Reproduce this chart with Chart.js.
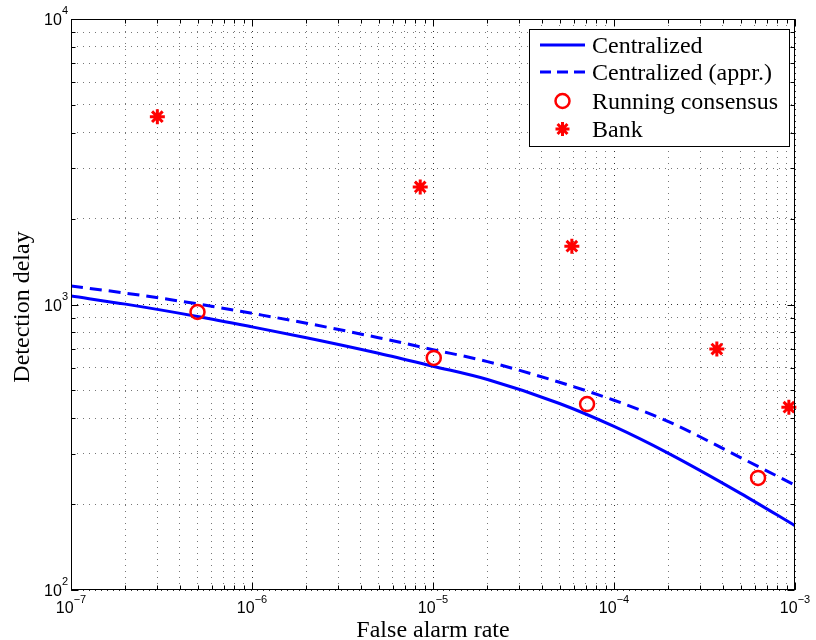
<!DOCTYPE html>
<html>
<head>
<meta charset="utf-8">
<script src="https://cdn.jsdelivr.net/npm/chart.js@4.4.1/dist/chart.umd.min.js"></script>
<style>
  html, body { margin: 0; padding: 0; background: #fff; }
  #wrap { width: 816px; height: 640px; position: relative; }
</style>
</head>
<body>
<div id="wrap"><canvas id="chart"></canvas></div>
<script>
const seriesNames = ["Centralized", "Centralized (appr.)", "Running consensus", "Bank"];

// curves
const centralX = [1e-7, 2e-7, 5e-7, 1e-6, 2e-6, 5e-6, 1e-5, 2e-5, 5e-5, 1e-4, 2e-4, 5e-4, 1e-3];
const centralY = [1071, 1003, 908, 835, 765, 675, 608, 546, 450, 374, 301, 218, 168];
const approxY = [1161, 1096, 1005, 931, 860, 765, 695, 631, 534, 462, 389, 291, 233];

// markers
const consensusX = [5e-7, 1.01e-5, 7.1e-5, 6.25e-4];
const consensusY = [941, 650, 448, 247];
const bankX = [3e-7, 8.5e-6, 5.85e-5, 3.7e-4, 9.25e-4];
const bankY = [4550, 2580, 1600, 698, 437];

// axes
const xMajor = [1e-7, 1e-6, 1e-5, 1e-4, 1e-3];
const xExp = ["\u22127", "\u22126", "\u22125", "\u22124", "\u22123"];
const yMajor = [1e2, 1e3, 1e4];
const yExp = ["2", "3", "4"];

const BLUE = "#0000ff";
const RED = "#ff0000";

function pts(xs, ys) {
  return xs.map((x, i) => ({ x: x, y: ys[i] }));
}

// 1..9 x 10^n between the major ticks
function decadeTicks(majors) {
  const out = [];
  for (let i = 0; i < majors.length - 1; i++) {
    for (let k = 1; k <= 9; k++) {
      out.push(parseFloat((k * majors[i]).toPrecision(10)));
    }
  }
  out.push(majors[majors.length - 1]);
  return out;
}

const xTicks = decadeTicks(xMajor);
const yTicks = decadeTicks(yMajor);

function isMajor(v) {
  const l = Math.log10(v);
  return Math.abs(l - Math.round(l)) < 1e-9;
}

function gridColor(ctx) {
  if (!ctx.tick) return "#666";
  return isMajor(ctx.tick.value) ? "#333" : "#777";
}

const framePlugin = {
  id: "frame",
  afterDatasetsDraw(chart) {
    const ctx = chart.ctx;
    const area = chart.chartArea;
    const xs = chart.scales.x;
    const ys = chart.scales.y;
    const L = Math.round(area.left) + 0.5;
    const R = Math.round(area.right) - 0.5;
    const T = Math.round(area.top) + 0.5;
    const B = Math.round(area.bottom) - 0.5;

    ctx.save();
    ctx.strokeStyle = "#000";
    ctx.lineWidth = 1;
    ctx.setLineDash([]);
    ctx.strokeRect(L, T, R - L, B - T);

    // inward ticks on all four sides
    ctx.beginPath();
    xTicks.forEach(v => {
      const p = Math.round(xs.getPixelForValue(v)) + 0.5;
      const len = isMajor(v) ? 7 : 4;
      ctx.moveTo(p, B); ctx.lineTo(p, B - len);
      ctx.moveTo(p, T); ctx.lineTo(p, T + len);
    });
    yTicks.forEach(v => {
      const p = Math.round(ys.getPixelForValue(v)) + 0.5;
      const len = isMajor(v) ? 7 : 4;
      ctx.moveTo(L, p); ctx.lineTo(L + len, p);
      ctx.moveTo(R, p); ctx.lineTo(R - len, p);
    });
    ctx.stroke();

    // tick labels 10^n
    ctx.fillStyle = "#000";
    ctx.textBaseline = "alphabetic";
    ctx.textAlign = "left";
    const baseFont = '16px "Liberation Sans", Arial, sans-serif';
    const expFont = '11px "Liberation Sans", Arial, sans-serif';

    xMajor.forEach((v, i) => {
      const p = xs.getPixelForValue(v);
      ctx.font = baseFont;
      const w1 = ctx.measureText("10").width;
      ctx.font = expFont;
      const w2 = ctx.measureText(xExp[i]).width;
      const start = p - (w1 + w2) / 2;
      ctx.font = baseFont;
      ctx.fillText("10", start, 613);
      ctx.font = expFont;
      ctx.fillText(xExp[i], start + w1, 603);
    });

    yMajor.forEach((v, i) => {
      const p = ys.getPixelForValue(v);
      ctx.font = expFont;
      const w2 = ctx.measureText(yExp[i]).width;
      ctx.font = baseFont;
      const w1 = ctx.measureText("10").width;
      const right = 68;
      ctx.fillText("10", right - w2 - w1, p + 6);
      ctx.font = expFont;
      ctx.fillText(yExp[i], right - w2, p - 5);
    });

    // axis titles
    ctx.font = '24px "Liberation Serif", "Times New Roman", serif';
    ctx.textAlign = "center";
    ctx.fillText("False alarm rate", (area.left + area.right) / 2, 637);
    ctx.save();
    ctx.translate(29, 307);
    ctx.rotate(-Math.PI / 2);
    ctx.fillText("Detection delay", 0, 0);
    ctx.restore();

    // legend box
    const lx = 529, ly = 29, lw = 260, lh = 117;
    ctx.fillStyle = "#fff";
    ctx.fillRect(lx, ly, lw, lh);
    ctx.strokeStyle = "#000";
    ctx.lineWidth = 1;
    ctx.strokeRect(lx + 0.5, ly + 0.5, lw, lh);

    const rows = [45, 72, 101, 129];
    const sx0 = 540, sx1 = 585, sxc = 562.5;

    ctx.lineWidth = 3;
    ctx.strokeStyle = BLUE;
    ctx.beginPath();
    ctx.moveTo(sx0, rows[0]); ctx.lineTo(sx1, rows[0]);
    ctx.stroke();

    ctx.setLineDash([11, 6]);
    ctx.beginPath();
    ctx.moveTo(sx0, rows[1]); ctx.lineTo(sx1, rows[1]);
    ctx.stroke();
    ctx.setLineDash([]);

    ctx.strokeStyle = RED;
    ctx.lineWidth = 2.5;
    ctx.beginPath();
    ctx.arc(sxc, rows[2], 7, 0, Math.PI * 2);
    ctx.stroke();

    ctx.lineWidth = 3;
    ctx.beginPath();
    const r = 7;
    for (let k = 0; k < 4; k++) {
      const a = k * Math.PI / 4;
      ctx.moveTo(sxc - r * Math.cos(a), rows[3] - r * Math.sin(a));
      ctx.lineTo(sxc + r * Math.cos(a), rows[3] + r * Math.sin(a));
    }
    ctx.stroke();

    ctx.fillStyle = "#000";
    ctx.textAlign = "left";
    ctx.font = '24px "Liberation Serif", "Times New Roman", serif';
    seriesNames.forEach((name, i) => {
      ctx.fillText(name, 592, rows[i] + 8);
    });

    ctx.restore();
  }
};

new Chart(document.getElementById("chart"), {
  type: "scatter",
  data: {
    datasets: [
      {
        label: seriesNames[2],
        data: pts(consensusX, consensusY),
        showLine: false,
        pointStyle: "circle",
        pointRadius: 7,
        borderWidth: 2.5,
        borderColor: RED,
        backgroundColor: "rgba(0,0,0,0)",
        clip: false,
        order: 0
      },
      {
        label: seriesNames[3],
        data: pts(bankX, bankY),
        showLine: false,
        pointStyle: "star",
        pointRadius: 7.5,
        borderWidth: 3,
        borderColor: RED,
        backgroundColor: RED,
        clip: false,
        order: 0
      },
      {
        label: seriesNames[0],
        data: pts(centralX, centralY),
        showLine: true,
        borderColor: BLUE,
        backgroundColor: BLUE,
        borderWidth: 3,
        pointRadius: 0,
        cubicInterpolationMode: "monotone",
        order: 1
      },
      {
        label: seriesNames[1],
        data: pts(centralX, approxY),
        showLine: true,
        borderColor: BLUE,
        backgroundColor: BLUE,
        borderWidth: 3,
        borderDash: [12, 7],
        pointRadius: 0,
        cubicInterpolationMode: "monotone",
        order: 1
      }
    ]
  },
  options: {
    responsive: true,
    maintainAspectRatio: false,
    animation: false,
    devicePixelRatio: 1,
    events: [],
    layout: { padding: { top: 19, right: 21, left: 0, bottom: 0 } },
    plugins: {
      legend: { display: false },
      tooltip: { enabled: false },
      title: { display: false }
    },
    scales: {
      x: {
        type: "logarithmic",
        min: 1e-7,
        max: 1e-3,
        afterBuildTicks: axis => { axis.ticks = xTicks.map(v => ({ value: v, major: isMajor(v) })); },
        afterFit: axis => { axis.height = 50; },
        ticks: { display: false },
        grid: { color: gridColor, lineWidth: 1, drawTicks: false, borderDash: [1, 5] },
        border: { display: false, dash: [1, 5] }
      },
      y: {
        type: "logarithmic",
        min: 1e2,
        max: 1e4,
        afterBuildTicks: axis => { axis.ticks = yTicks.map(v => ({ value: v, major: isMajor(v) })); },
        afterFit: axis => { axis.width = 71; },
        ticks: { display: false },
        grid: { color: gridColor, lineWidth: 1, drawTicks: false, borderDash: [1, 5] },
        border: { display: false, dash: [1, 5] }
      }
    }
  },
  plugins: [framePlugin]
});
</script>
</body>
</html>
